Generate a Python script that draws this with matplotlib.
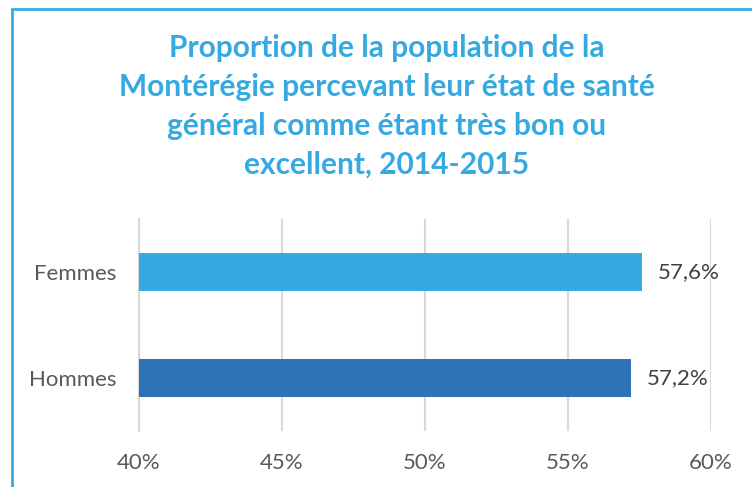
import matplotlib.pyplot as plt
from matplotlib.patches import Rectangle

categories = ["Femmes", "Hommes"]
values = [57.6, 57.2]
labels = ["57,6%", "57,2%"]
ticks = [40, 45, 50, 55, 60]
tick_labels = ["40%", "45%", "50%", "55%", "60%"]
colors = ["#36A9E1", "#2E73B5"]

plt.rcParams['font.family'] = ['Lato', 'DejaVu Sans']

fig = plt.figure(figsize=(7.52, 4.87), dpi=100)
ax = fig.add_axes([139/752, 1 - 431/487, (711-139)/752, 212/487])

ax.barh(range(len(categories)), [v - 40 for v in values], left=40,
        height=0.36, color=colors, zorder=3)
for i, (v, lab) in enumerate(zip(values, labels)):
    ax.text(v + 0.55, i, lab, va="center", ha="left", fontsize=16, color="#404040")

ax.set_xlim(40, 60)
ax.set_ylim(1.5, -0.5)
ax.set_xticks(ticks)
ax.set_xticklabels(tick_labels, fontsize=16, color="#595959")
ax.set_yticks(range(len(categories)))
ax.set_yticklabels(categories, fontsize=16, color="#595959")
ax.tick_params(length=0, pad=16, axis="x")
ax.tick_params(length=0, pad=16.5, axis="y")
ax.grid(axis="x", color="#D9D9D9", linewidth=1.5, zorder=0)
for s in ["top", "right", "bottom"]:
    ax.spines[s].set_visible(False)
ax.spines["left"].set_color("#D9D9D9")
ax.spines["left"].set_linewidth(1.5)

title_lines = ["Proportion de la population de la",
               "Montérégie percevant leur état de santé",
               "général comme étant très bon ou",
               "excellent, 2014-2015"]
for k, line in enumerate(title_lines):
    fig.text(387/752, 1 - (48 + k*39)/487, line, ha="center", va="center",
             fontsize=21.5, fontweight="bold", color="#36A9E1")

fig.patches.append(Rectangle((12/752, -0.05), 1.0, 1 - 9/487 + 0.05,
                             transform=fig.transFigure, fill=False,
                             edgecolor="#36A9E1", linewidth=2))

fig.savefig("out.png", dpi=100)
